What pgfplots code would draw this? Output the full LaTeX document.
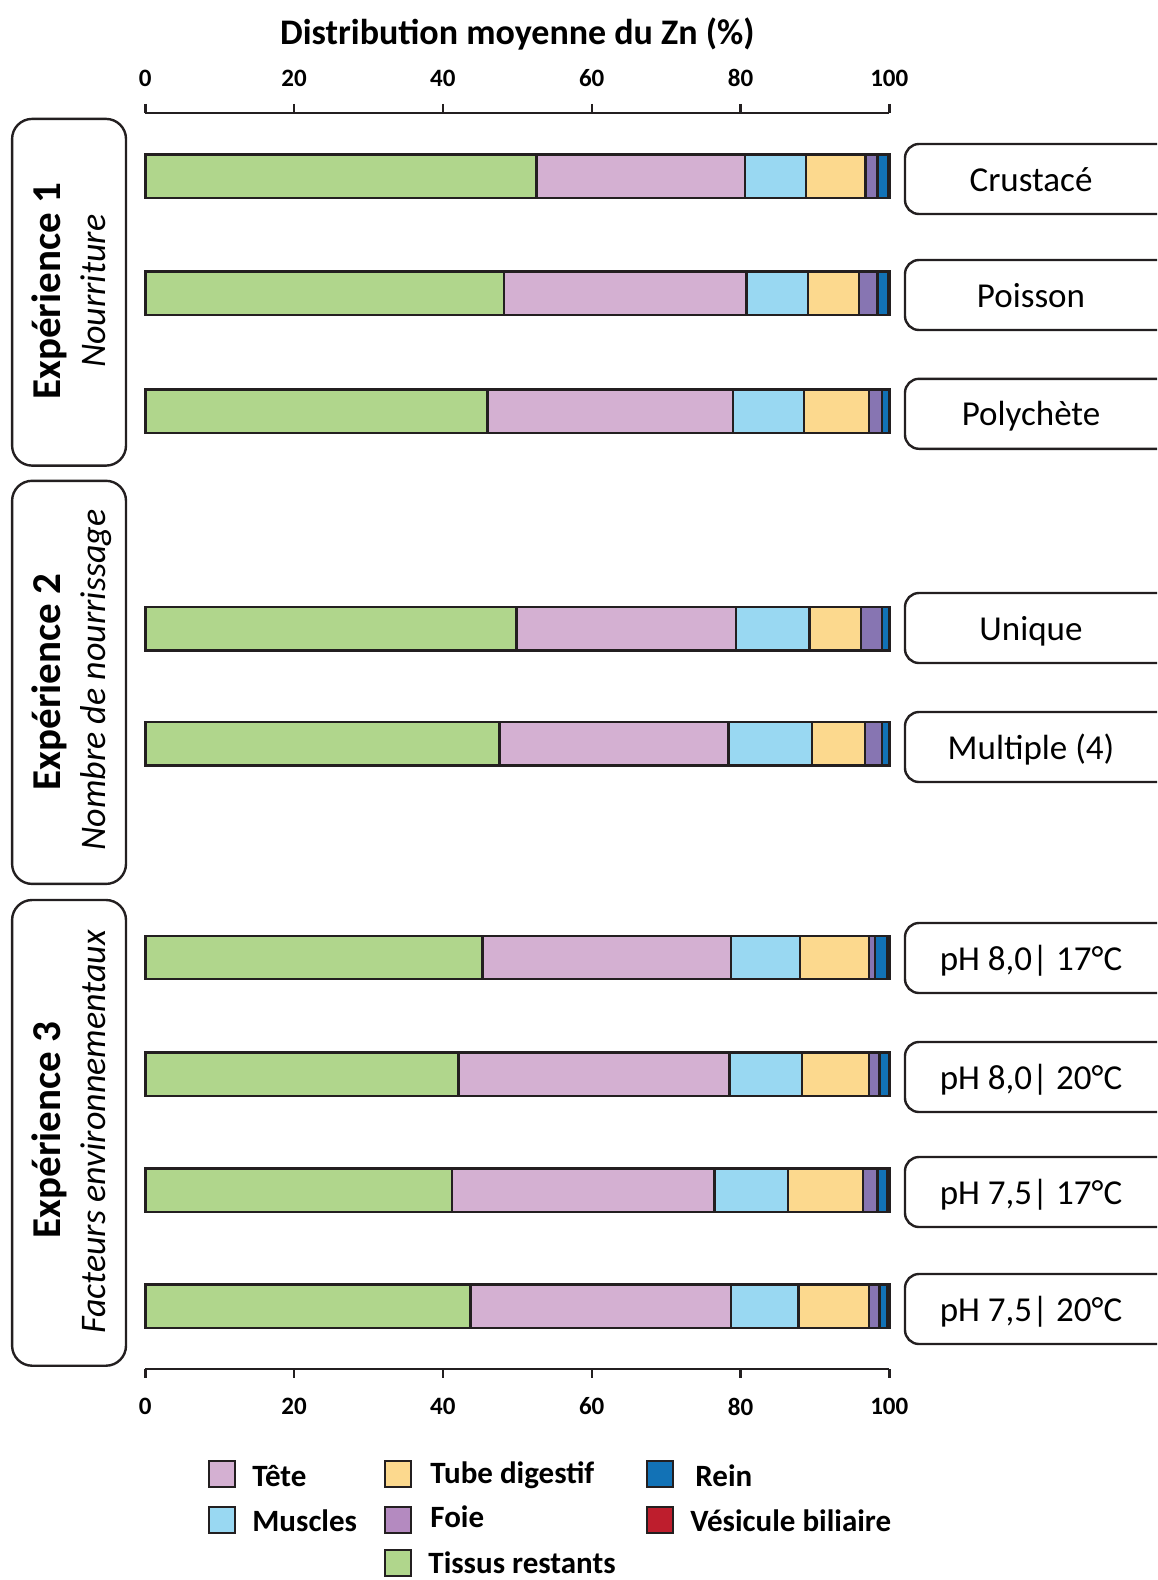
\documentclass[border=0pt]{standalone}
\usepackage{fontspec}
\setmainfont{Carlito}
\usepackage{pgfplots}
\usepackage{pgfplotstable}
\pgfplotsset{compat=1.18}

\definecolor{cGreen}{RGB}{176,214,140}
\definecolor{cPink}{RGB}{212,176,210}
\definecolor{cMus}{RGB}{153,216,242}
\definecolor{cTube}{RGB}{252,217,142}
\definecolor{cFoie}{RGB}{135,117,178}
\definecolor{cFoieL}{RGB}{180,138,192}
\definecolor{cRein}{RGB}{18,114,182}
\definecolor{cVes}{RGB}{190,30,45}
\definecolor{cLine}{RGB}{35,31,32}

\pgfplotstableread{
pos    tissus tete muscles tube foie rein ves
1192.3 52.6 28.0 8.2 8.0 1.6 1.4 0.2
1075.4 48.2 32.6 8.3 6.8 2.5 1.4 0.2
957.5  46.0 33.0 9.5 8.8 1.7 1.0 0.0
739.8  49.9 29.5 9.9 6.9 2.8 1.0 0.0
624.9  47.6 30.8 11.2 7.1 2.3 1.0 0.0
411.2  45.3 33.4 9.3 9.3 0.8 1.6 0.3
294.3  42.1 36.4 9.8 9.0 1.4 1.3 0.0
178.4  41.2 35.3 9.9 10.1 1.9 1.3 0.3
62.5   43.7 35.0 9.1 9.5 1.4 1.0 0.3
}\zndata

\pgfplotsset{
  zncommon/.style={
    at={(72.65pt,-684.35pt)}, anchor=south west,
    scale only axis, width=372pt, height=627.9pt,
    xmin=0, xmax=100, ymin=0, ymax=1255.8,
    axis y line=none,
    axis line style={-, line width=1.2pt, draw=cLine},
    xtick={0,20,40,60,80,100},
    tick align=outside, major tick length=4.5pt,
    tick style={line width=1.2pt, draw=cLine},
    /pgf/number format/assume math mode=true,
    clip=false,
  }
}

\begin{document}
\begin{tikzpicture}
\useasboundingbox (0,0) rectangle (578.5pt,-790pt);

\begin{axis}[zncommon,
  axis x line*=bottom,
  ticklabel style={font=\bfseries\fontsize{12.5}{14}\selectfont, yshift=-6.5pt},
  xbar stacked, bar width=43.5,
  every axis plot/.append style={draw=cLine, line width=1.2pt},
]
\addplot[fill=cGreen] table[x=tissus,y=pos]{\zndata};
\addplot[fill=cPink]  table[x=tete,y=pos]{\zndata};
\addplot[fill=cMus]   table[x=muscles,y=pos]{\zndata};
\addplot[fill=cTube]  table[x=tube,y=pos]{\zndata};
\addplot[fill=cFoie]  table[x=foie,y=pos]{\zndata};
\addplot[fill=cRein]  table[x=rein,y=pos]{\zndata};
\addplot[fill=cVes]   table[x=ves,y=pos]{\zndata};
\end{axis}

\begin{axis}[zncommon,
  axis x line*=top,
  ticklabel style={font=\bfseries\fontsize{12.5}{14}\selectfont, yshift=5pt},
  xlabel={Distribution moyenne du Zn (\%)},
  xlabel style={font=\bfseries\fontsize{18}{20}\selectfont, yshift=3pt},
]
\addplot[draw=none] coordinates {(0,0)};
\end{axis}

\begin{scope}[x=0.5pt,y=-0.5pt]
  % left group boxes
  \draw[cLine, line width=1.2pt, rounded corners=10pt] (12.1,118.9) rectangle (126,465.6);
  \draw[cLine, line width=1.2pt, rounded corners=10pt] (12.1,480.8) rectangle (126,883.9);
  \draw[cLine, line width=1.2pt, rounded corners=10pt] (12.1,900) rectangle (126,1365.7);

  \node[rotate=90, anchor=base, inner sep=0pt, font=\bfseries\fontsize{20.5}{24}\selectfont] at (60,291.3) {Expérience 1};
  \node[rotate=90, anchor=base, inner sep=0pt, font=\itshape\fontsize{18}{22}\selectfont] at (105,291.3) {Nourriture};
  \node[rotate=90, anchor=base, inner sep=0pt, font=\bfseries\fontsize{20.5}{24}\selectfont] at (60,682) {Expérience 2};
  \node[rotate=90, anchor=base, inner sep=0pt, font=\itshape\fontsize{18}{22}\selectfont] at (105,680) {Nombre de nourrissage};
  \node[rotate=90, anchor=base, inner sep=0pt, font=\bfseries\fontsize{20.5}{24}\selectfont] at (60,1130) {Expérience 3};
  \node[rotate=90, anchor=base, inner sep=0pt, font=\itshape\fontsize{18}{22}\selectfont] at (105,1132) {Facteurs environnementaux};

  % right label boxes
  \begin{scope}
    \clip (0,0) rectangle (1157,1580);
    \foreach \c in {179,295,413.8,628,747,958,1077,1192,1309}{
      \draw[cLine, line width=1.2pt, rounded corners=7pt] (905,\c-35) rectangle (1210,\c+35);
    }
  \end{scope}
  \begin{scope}[every node/.style={anchor=base, inner sep=0pt, font=\fontsize{17.5}{20}\selectfont}]
    \node at (1031,191) {Crustacé};
    \node at (1031,307) {Poisson};
    \node at (1031,425.8) {Polychète};
    \node at (1031,640) {Unique};
    \node at (1031,759) {Multiple (4)};
    \node at (1031,970) {pH 8,0| 17°C};
    \node at (1031,1089) {pH 8,0| 20°C};
    \node at (1031,1204) {pH 7,5| 17°C};
    \node at (1031,1321) {pH 7,5| 20°C};
  \end{scope}

  % legend
  \foreach \x/\y/\col in {221.7/1474.4/cPink, 221.7/1519.8/cMus, 398.1/1474.4/cTube, 398.1/1519.8/cFoieL, 398.1/1563/cGreen, 659.6/1474.4/cRein, 659.6/1519.8/cVes}{
    \draw[cLine, line width=1pt, fill=\col] (\x-13,\y-13) rectangle (\x+13,\y+13);
  }
  \begin{scope}[every node/.style={anchor=base west, inner sep=0pt, font=\bfseries\fontsize{15.5}{18}\selectfont}]
    \node at (252,1486) {Tête};
    \node at (252,1531) {Muscles};
    \node at (430,1483) {Tube digestif};
    \node at (430,1527) {Foie};
    \node at (428,1573) {Tissus restants};
    \node at (695,1486) {Rein};
    \node at (690,1531) {Vésicule biliaire};
  \end{scope}
\end{scope}
\end{tikzpicture}
\end{document}
